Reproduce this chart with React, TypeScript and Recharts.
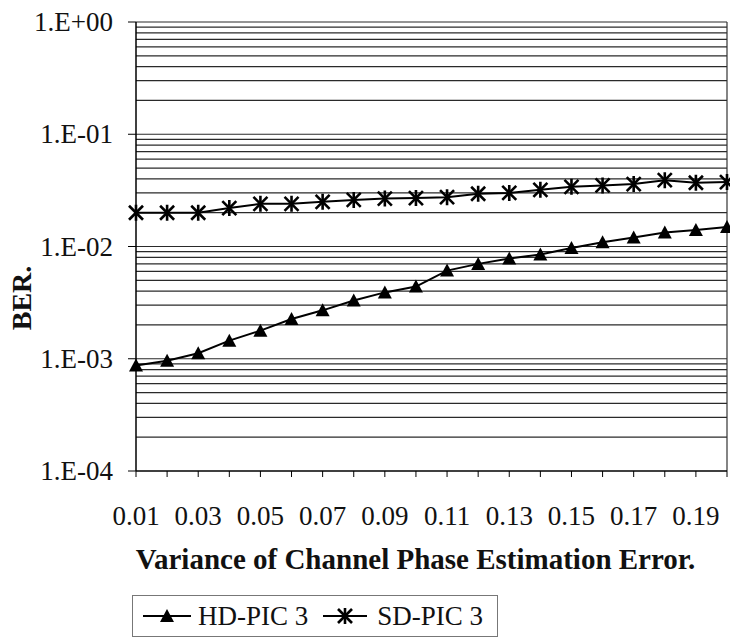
import React from 'react';
import { LineChart, Line, XAxis, YAxis, ReferenceLine, Legend } from 'recharts';

const variances = [
  '0.01', '0.02', '0.03', '0.04', '0.05', '0.06', '0.07', '0.08', '0.09', '0.10',
  '0.11', '0.12', '0.13', '0.14', '0.15', '0.16', '0.17', '0.18', '0.19', '0.20',
];

const hdPic3 = [
  8.7e-4, 9.6e-4, 1.12e-3, 1.45e-3, 1.78e-3, 2.26e-3, 2.7e-3, 3.3e-3, 3.9e-3, 4.4e-3,
  6.1e-3, 7.0e-3, 7.8e-3, 8.5e-3, 9.7e-3, 1.09e-2, 1.2e-2, 1.33e-2, 1.4e-2, 1.49e-2,
];

const sdPic3 = [
  2.0e-2, 2.0e-2, 2.0e-2, 2.2e-2, 2.4e-2, 2.4e-2, 2.5e-2, 2.6e-2, 2.67e-2, 2.7e-2,
  2.75e-2, 2.95e-2, 3.0e-2, 3.2e-2, 3.4e-2, 3.5e-2, 3.6e-2, 3.9e-2, 3.7e-2, 3.75e-2,
];

const decadeTicks = [1e-4, 1e-3, 1e-2, 1e-1, 1];
const decadeLabels = ['1.E-04', '1.E-03', '1.E-02', '1.E-01', '1.E+00'];

// minor grid: 1..9 in each decade (bottom decade line is the axis itself)
const gridValues: number[] = [];
[1e-4, 1e-3, 1e-2, 1e-1].forEach((d) => {
  for (let m = 1; m <= 9; m++) {
    if (d === 1e-4 && m === 1) continue;
    gridValues.push(+(d * m).toPrecision(3));
  }
});
gridValues.push(1);

const data = variances.map((x, i) => ({ x, hd: hdPic3[i], sd: sdPic3[i] }));

const FONT = '"Liberation Serif", "Times New Roman", serif';

const TriangleDot = (props: any) => {
  const { cx, cy } = props;
  if (cx == null || cy == null) return null;
  return <path d={`M${cx},${cy - 7} L${cx + 7},${cy + 6} L${cx - 7},${cy + 6} Z`} fill="#000" />;
};

const StarDot = (props: any) => {
  const { cx, cy } = props;
  if (cx == null || cy == null) return null;
  const r = 7;
  return (
    <g stroke="#000" strokeWidth={2.6}>
      <line x1={cx - r} y1={cy - r} x2={cx + r} y2={cy + r} />
      <line x1={cx - r} y1={cy + r} x2={cx + r} y2={cy - r} />
      <line x1={cx} y1={cy - r - 1} x2={cx} y2={cy + r + 1} />
    </g>
  );
};

const XTick = (props: any) => {
  const { x, y, index, payload } = props;
  if (index % 2 !== 0) return null;
  return (
    <text x={x} y={y} dy={48} textAnchor="middle" fontFamily={FONT} fontSize={27} fill="#111">
      {payload.value}
    </text>
  );
};

const YTick = (props: any) => {
  const { x, y, payload } = props;
  const i = decadeTicks.findIndex((t) => Math.abs(t - payload.value) < payload.value * 1e-6);
  return (
    <text x={x} y={y} dy={9} textAnchor="end" fontFamily={FONT} fontSize={27} fill="#111">
      {decadeLabels[i]}
    </text>
  );
};

const LegendBox = () => (
  <div
    style={{
      width: 366,
      height: 42,
      boxSizing: 'border-box',
      border: '1px solid #777',
      display: 'flex',
      alignItems: 'center',
      fontFamily: FONT,
      fontSize: 27,
      color: '#111',
      paddingLeft: 9,
    }}
  >
    <svg width={50} height={20}>
      <line x1={1} y1={10} x2={49} y2={10} stroke="#000" strokeWidth={2} />
      <TriangleDot cx={25} cy={10} />
    </svg>
    <span style={{ marginLeft: 6 }}>HD-PIC 3</span>
    <svg width={46} height={20} style={{ marginLeft: 14 }}>
      <line x1={1} y1={10} x2={45} y2={10} stroke="#000" strokeWidth={2} />
      <StarDot cx={23} cy={10} />
    </svg>
    <span style={{ marginLeft: 9 }}>SD-PIC 3</span>
  </div>
);

const App: React.FC = () => {
  return (
    <div style={{ position: 'absolute', left: 0, top: 0, background: '#fff' }}>
      <LineChart width={730} height={638} data={data} margin={{ top: 22, right: 3, left: 0, bottom: 50 }}>
        {gridValues.map((v) => (
          <ReferenceLine key={v} y={v} stroke="#2a2a2a" strokeWidth={1.2} />
        ))}
        <ReferenceLine x="0.20" stroke="#333" strokeWidth={1.2} />
        <XAxis
          dataKey="x"
          type="category"
          interval={0}
          height={117}
          tickSize={6}
          tickMargin={0}
          tick={<XTick />}
          axisLine={{ stroke: '#000', strokeWidth: 1.5 }}
          tickLine={{ stroke: '#000' }}
          label={{
            value: 'Variance of Channel Phase Estimation Error.',
            position: 'insideBottom',
            offset: 19,
            dx: -16,
            fontFamily: FONT,
            fontSize: 29,
            fontWeight: 'bold',
            fill: '#111',
          }}
        />
        <YAxis
          type="number"
          scale="log"
          domain={[1e-4, 1]}
          allowDataOverflow
          ticks={decadeTicks}
          width={136}
          tickSize={8}
          tickMargin={15}
          tick={<YTick />}
          axisLine={{ stroke: '#000', strokeWidth: 1.5 }}
          tickLine={{ stroke: '#000' }}
          label={{
            content: () => (
              <text
                x={22}
                y={298}
                transform="rotate(-90 22 298)"
                dy={9}
                textAnchor="middle"
                fontFamily={FONT}
                fontSize={28}
                fontWeight="bold"
                fill="#111"
              >
                BER.
              </text>
            ),
          }}
        />
        <Legend
          layout="vertical"
          verticalAlign="middle"
          align="center"
          content={() => <LegendBox />}
          wrapperStyle={{ left: 132, top: 595, width: 366, height: 42 }}
        />
        <Line
          dataKey="hd"
          name="HD-PIC 3"
          stroke="#000"
          strokeWidth={2}
          type="linear"
          dot={<TriangleDot />}
          activeDot={false}
          isAnimationActive={false}
        />
        <Line
          dataKey="sd"
          name="SD-PIC 3"
          stroke="#000"
          strokeWidth={2}
          type="linear"
          dot={<StarDot />}
          activeDot={false}
          isAnimationActive={false}
        />
      </LineChart>
    </div>
  );
};

export default App;
